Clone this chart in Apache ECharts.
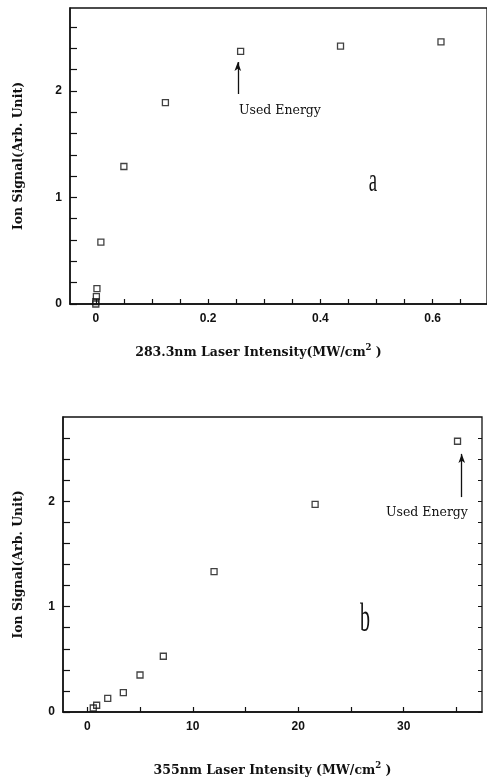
<!DOCTYPE html>
<html>
<head>
<meta charset="utf-8">
<script src="https://cdn.jsdelivr.net/npm/echarts@6/dist/echarts.min.js"></script>
<style>
  html, body { margin: 0; padding: 0; background: #fff; }
  #myChart { width: 487px; height: 782px; }
</style>
</head>
<body>
<div id="myChart"></div>
<script>
  // panel a : 283.3nm
  var aIntensity = [0.0, 0.0, 0.001, 0.002, 0.009, 0.05, 0.124, 0.258, 0.436, 0.615];
  var aSignal = [0.0, 0.022, 0.069, 0.144, 0.58, 1.29, 1.89, 2.37, 2.42, 2.46];
  var aXLabels = [0, 0.2, 0.4, 0.6];
  var aXTicks = [0, 0.05, 0.1, 0.15, 0.2, 0.25, 0.3, 0.35, 0.4, 0.45, 0.5, 0.55, 0.6, 0.65];
  var aYLabels = [0, 1, 2];
  var aYTicks = [0, 0.2, 0.4, 0.6, 0.8, 1, 1.2, 1.4, 1.6, 1.8, 2, 2.2, 2.4, 2.6];

  // panel b : 355nm
  var bIntensity = [0.57, 0.89, 1.94, 3.42, 5.0, 7.21, 12.02, 21.6, 35.1];
  var bSignal = [0.038, 0.064, 0.13, 0.184, 0.351, 0.529, 1.333, 1.97, 2.57];
  var bXLabels = [0, 10, 20, 30];
  var bXTicks = [0, 5, 10, 15, 20, 25, 30, 35];
  var bYLabels = [0, 1, 2];
  var bYTicks = [0, 0.2, 0.4, 0.6, 0.8, 1, 1.2, 1.4, 1.6, 1.8, 2, 2.2, 2.4, 2.6];

  var ink = '#111';
  var tickFont = {color: ink, fontFamily: 'Liberation Sans', fontWeight: 'bold', fontSize: 12};
  var titleFont = {color: ink, fontFamily: 'DejaVu Serif', fontWeight: 'bold', fontSize: 12.5};

  function pairs(xs, ys) {
    return xs.map(function (x, i) { return [x, ys[i]]; });
  }

  function xAxisOf(grid, min, max, labels, ticks, name, gap, pad) {
    return {
      type: 'value', gridIndex: grid, min: min, max: max,
      splitLine: {show: false},
      axisLine: {onZero: false, lineStyle: {color: ink, width: 1.5}},
      axisTick: {inside: true, length: 5, customValues: ticks, lineStyle: {color: ink, width: 1.2}},
      axisLabel: Object.assign({margin: 9, customValues: labels}, tickFont),
      name: name, nameLocation: 'middle', nameGap: gap,
      nameTextStyle: Object.assign({padding: pad, rich: {sup: {fontSize: 8.5, padding: [0, 0, 10, 0], fontFamily: 'DejaVu Serif', fontWeight: 'bold'}}}, titleFont)
    };
  }

  function yAxisOf(grid, max, labels, ticks, name, gap, margin) {
    return {
      type: 'value', gridIndex: grid, min: 0, max: max,
      splitLine: {show: false},
      axisLine: {onZero: false, lineStyle: {color: ink, width: 1.5}},
      axisTick: {inside: true, length: 7, customValues: ticks, lineStyle: {color: ink, width: 1.2}},
      axisLabel: Object.assign({margin: margin, customValues: labels}, tickFont),
      name: name, nameLocation: 'middle', nameGap: gap,
      nameTextStyle: titleFont
    };
  }

  function arrowLine(x, y0, y1) {
    return {
      silent: true, animation: false,
      symbol: ['none', 'arrow'], symbolSize: [5, 9],
      label: {show: false},
      lineStyle: {color: ink, width: 1.3, type: 'solid'},
      data: [[{coord: [x, y0]}, {coord: [x, y1]}]]
    };
  }

  var marker = {
    symbol: 'rect', symbolSize: 6,
    itemStyle: {color: 'rgba(0,0,0,0)', borderColor: ink, borderWidth: 1.3}
  };

  var myChart = echarts.init(document.getElementById('myChart'));
  myChart.setOption({
    animation: false,
    backgroundColor: '#fff',
    grid: [
      {left: 70, right: -3, top: 8, bottom: 478, show: true, borderColor: ink, borderWidth: 1.3},
      {left: 63, right: 5, top: 417, bottom: 70, show: true, borderColor: ink, borderWidth: 1.3}
    ],
    xAxis: [
      xAxisOf(0, -0.046, 0.697, aXLabels, aXTicks, '283.3nm Laser Intensity(MW/cm{sup|2} )', 39, [0, 40, 0, 0]),
      xAxisOf(1, -2.3, 37.42, bXLabels, bXTicks, '355nm Laser Intensity (MW/cm{sup|2} )', 49, [0, 0, 0, 0])
    ],
    yAxis: [
      yAxisOf(0, 2.777, aYLabels, aYTicks, 'Ion Signal(Arb. Unit)', 45, 8),
      yAxisOf(1, 2.80, bYLabels, bYTicks, 'Ion Signal(Arb. Unit)', 38, 8),
      // small ticks on the right frame of panel b
      {
        type: 'value', gridIndex: 1, position: 'right', min: 0, max: 2.80,
        splitLine: {show: false}, axisLine: {show: false, onZero: false}, axisLabel: {show: false},
        axisTick: {inside: true, length: 4, customValues: bYTicks, lineStyle: {color: ink, width: 1}}
      }
    ],
    series: [
      Object.assign({
        type: 'scatter', xAxisIndex: 0, yAxisIndex: 0,
        data: pairs(aIntensity, aSignal),
        markLine: arrowLine(0.253, 1.97, 2.27)
      }, marker),
      Object.assign({
        type: 'scatter', xAxisIndex: 1, yAxisIndex: 1,
        data: pairs(bIntensity, bSignal),
        markLine: arrowLine(35.5, 2.04, 2.45)
      }, marker)
    ],
    graphic: [
      {type: 'text', left: 239, top: 104, style: {text: 'Used Energy', fill: ink, font: '12.5px "DejaVu Serif"'}},
      {type: 'text', left: 386, top: 506, style: {text: 'Used Energy', fill: ink, font: '12.5px "DejaVu Serif"'}},
      {type: 'text', x: 373, y: 182, scaleX: 0.55, style: {text: 'a', fill: ink, font: '34px "Liberation Serif"', align: 'center', verticalAlign: 'middle'}},
      {type: 'text', x: 365, y: 620, scaleX: 0.5, style: {text: 'b', fill: ink, font: '40px "Liberation Serif"', align: 'center', verticalAlign: 'middle'}}
    ]
  });
</script>
</body>
</html>
